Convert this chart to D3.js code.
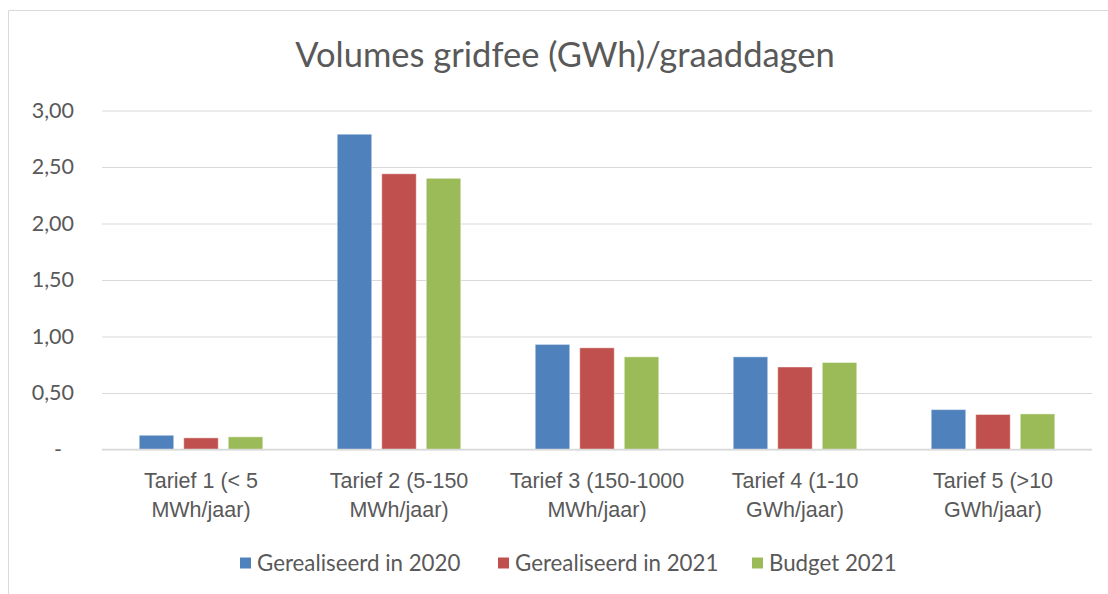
<!DOCTYPE html>
<html>
<head>
<meta charset="utf-8">
<script src="https://cdn.jsdelivr.net/npm/d3@7"></script>
<style>
  html, body { margin: 0; padding: 0; background: #ffffff; }
  svg { display: block; font-family: "Lato", "Open Sans", sans-serif; }
</style>
</head>
<body>
<svg id="chart" width="1108" height="594"></svg>
<script>
// ---- data ----
const categories = [
  ["Tarief 1 (< 5", "MWh/jaar)"],
  ["Tarief 2 (5-150", "MWh/jaar)"],
  ["Tarief 3 (150-1000", "MWh/jaar)"],
  ["Tarief 4 (1-10", "GWh/jaar)"],
  ["Tarief 5 (>10", "GWh/jaar)"]
];
const seriesNames = ["Gerealiseerd in 2020", "Gerealiseerd in 2021", "Budget 2021"];
const gerealiseerd2020 = [0.126, 2.79, 0.93, 0.82, 0.353];
const gerealiseerd2021 = [0.103, 2.44, 0.90, 0.73, 0.31];
const budget2021 = [0.112, 2.40, 0.82, 0.77, 0.315];
const tickValues = [0, 0.5, 1, 1.5, 2, 2.5, 3];
const tickLabels = ["-", "0,50", "1,00", "1,50", "2,00", "2,50", "3,00"];
const titleText = "Volumes gridfee (GWh)/graaddagen";
const colors = ["#4f81bd", "#c0504d", "#9bbb59"];

const seriesValues = [gerealiseerd2020, gerealiseerd2021, budget2021];
const catIds = categories.map((c, i) => i);

// ---- layout ----
const svg = d3.select("#chart");
const W = 1108, H = 594;
const plot = { left: 102, right: 1092, top: 110.5, bottom: 449.5 };
const textColor = "#595959";
const gridColor = "#d9d9d9";
const fs = 21.5;

// chart area border (cropped at right/bottom)
svg.append("path")
  .attr("d", `M8.5,${H + 2} L8.5,10.5 L${W + 2},10.5`)
  .attr("fill", "none").attr("stroke", gridColor).attr("stroke-width", 1);

// title
svg.append("text")
  .attr("x", 565).attr("y", 67)
  .attr("text-anchor", "middle")
  .attr("fill", textColor)
  .attr("font-size", 34.5)
  .text(titleText);

const y = d3.scaleLinear().domain([0, 3]).range([plot.bottom, plot.top]);
const x0 = d3.scaleBand().domain(catIds).range([plot.left, plot.right]).paddingInner(0).paddingOuter(0);
const bw = x0.bandwidth();
const x1 = d3.scaleBand().domain(d3.range(seriesNames.length))
  .range([bw * 0.188, bw * 0.812]).paddingInner(0.225).paddingOuter(0);

// gridlines + y labels via axis
const yAxis = d3.axisLeft(y)
  .tickValues(tickValues)
  .tickSize(-(plot.right - plot.left))
  .tickPadding(28)
  .tickFormat((d, i) => tickLabels[i]);

const gy = svg.append("g")
  .attr("transform", `translate(${plot.left},0)`)
  .call(yAxis);
gy.select(".domain").remove();
gy.selectAll(".tick line").attr("stroke", gridColor).attr("stroke-width", 1.2);
gy.selectAll(".tick text")
  .attr("fill", textColor)
  .attr("font-size", fs)
  .attr("font-family", "Lato, sans-serif");
gy.selectAll(".tick").filter(d => d === 0).select("text").attr("x", -40);

// bars
const groups = svg.append("g").selectAll("g")
  .data(catIds).join("g")
  .attr("transform", d => `translate(${x0(d)},0)`);

groups.selectAll("rect")
  .data(ci => seriesValues.map((vals, si) => ({ si, v: vals[ci] })))
  .join("rect")
  .attr("x", d => x1(d.si))
  .attr("width", x1.bandwidth())
  .attr("y", d => y(d.v))
  .attr("height", d => y(0) - y(d.v))
  .attr("fill", d => colors[d.si])
  .attr("stroke", "#ffffff").attr("stroke-opacity", 0.45).attr("stroke-width", 1);

// baseline
svg.append("line")
  .attr("x1", plot.left).attr("x2", plot.right)
  .attr("y1", y(0)).attr("y2", y(0))
  .attr("stroke", gridColor).attr("stroke-width", 1.5);

// category labels (two lines)
const xAxis = d3.axisBottom(x0).tickSize(0).tickFormat("");
const gx = svg.append("g").attr("transform", `translate(0,${plot.bottom})`).call(xAxis);
gx.select(".domain").remove();
gx.selectAll(".tick").each(function(d) {
  const t = d3.select(this).append("text")
    .attr("text-anchor", "middle")
    .attr("fill", textColor)
    .attr("font-size", fs);
  categories[d].forEach((line, li) => {
    t.append("tspan").attr("x", 0).attr("y", 38.5 + li * 29).text(line);
  });
});

// legend
const legendX = [240, 498, 752];
const lg = svg.append("g").attr("transform", "translate(0,563)");
seriesNames.forEach((name, i) => {
  lg.append("rect").attr("x", legendX[i]).attr("y", -5.5).attr("width", 11).attr("height", 11).attr("fill", colors[i]);
  lg.append("text").attr("x", legendX[i] + 17).attr("y", 7.5)
    .attr("fill", textColor).attr("font-size", 22.3).text(name);
});
</script>
</body>
</html>
